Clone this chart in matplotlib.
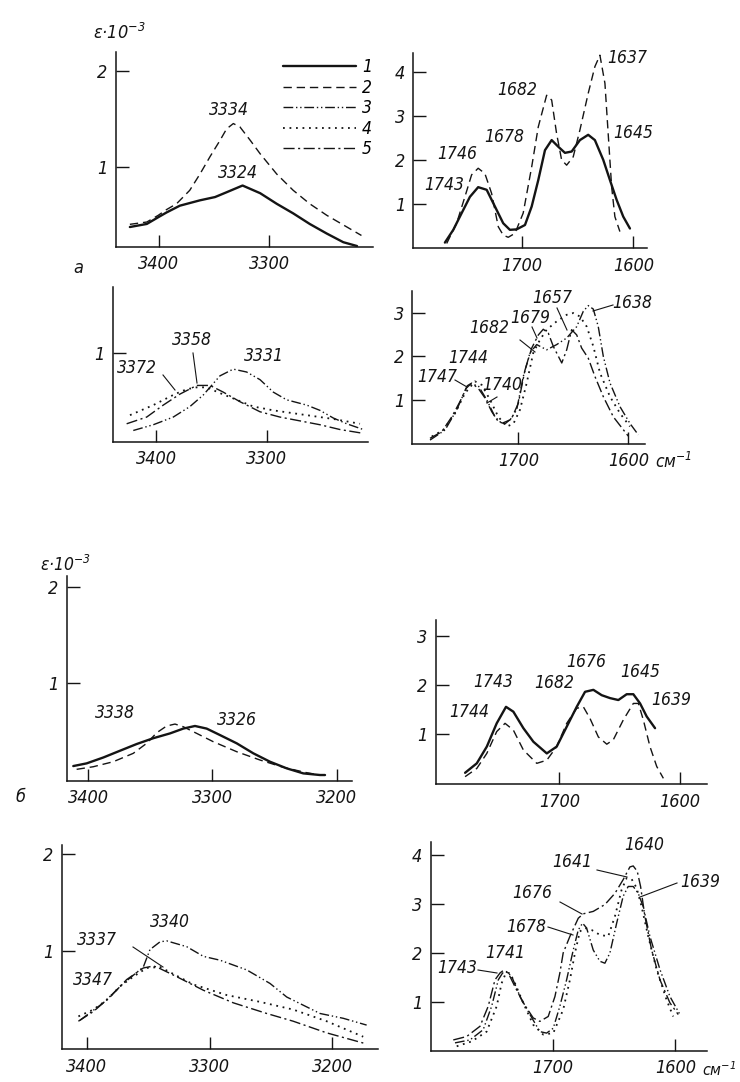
import matplotlib.pyplot as plt
from matplotlib.lines import Line2D

W, H = 740, 1082

plt.rcParams['font.family'] = ['DejaVu Sans']
plt.rcParams['font.style'] = 'italic'
plt.rcParams['font.stretch'] = 'condensed'
plt.rcParams['mathtext.default'] = 'it'

INK = '#141414'

# ---------------- data ----------------
# panel a, upper left (3 um region): curves 1 and 2
a1_nu_1 = [3426.4, 3411, 3400.6, 3393, 3381, 3362.7, 3349, 3338.5, 3324, 3308,
           3293, 3278, 3263, 3247.5, 3232.5, 3220]
a1_eps_1 = [0.378, 0.41, 0.48, 0.53, 0.60, 0.656, 0.69, 0.74, 0.81, 0.73,
            0.62, 0.52, 0.41, 0.31, 0.22, 0.18]
a1_nu_2 = [3426.4, 3411, 3400.6, 3393, 3384, 3372, 3362.7, 3353.6, 3344.5, 3338.5,
           3332.4, 3326.4, 3317, 3308, 3293, 3278, 3263, 3247.5, 3232.5, 3216]
a1_eps_2 = [0.406, 0.43, 0.50, 0.56, 0.62, 0.76, 0.93, 1.11, 1.28, 1.40,
            1.455, 1.42, 1.28, 1.14, 0.93, 0.76, 0.62, 0.50, 0.40, 0.29]

# panel a, lower left: curves 3, 4, 5
a2_nu_3 = [3420.5, 3402.4, 3384.4, 3369.3, 3357.3, 3342.2, 3330.2, 3318.1, 3306, 3294,
           3282, 3263.9, 3251.9, 3239.8, 3227.7, 3212.7]
a2_eps_3 = [0.19, 0.25, 0.33, 0.44, 0.56, 0.76, 0.83, 0.80, 0.72, 0.59,
            0.51, 0.455, 0.40, 0.32, 0.26, 0.20]
a2_nu_4 = [3423.5, 3402.4, 3382.8, 3372.3, 3363.2, 3354.2, 3342.2, 3327.1, 3312.1, 3294,
           3276, 3257.9, 3239.8, 3215.7]
a2_eps_4 = [0.35, 0.455, 0.57, 0.62, 0.64, 0.64, 0.58, 0.51, 0.44, 0.40,
            0.37, 0.34, 0.31, 0.26]
a2_nu_5 = [3426.5, 3408.4, 3393.4, 3378.3, 3363.2, 3351.2, 3339.2, 3324.1, 3306, 3288,
           3269.9, 3251.9, 3233.8, 3212.7]
a2_eps_5 = [0.26, 0.33, 0.455, 0.57, 0.66, 0.66, 0.59, 0.49, 0.385, 0.33,
            0.29, 0.25, 0.20, 0.16]

# panel a, upper right (6 um region): curves 1 and 2
a3_nu_1 = [1768.7, 1761.2, 1753.7, 1746.3, 1738.9, 1731.3, 1723.9, 1716.5, 1710.5, 1704.5,
           1697, 1691, 1685.1, 1679.1, 1673.1, 1667.2, 1661.2, 1655.2, 1647.8, 1640.4,
           1634.4, 1626.9, 1620.9, 1614.9, 1609, 1603]
a3_eps_1 = [0.13, 0.42, 0.80, 1.17, 1.39, 1.33, 0.95, 0.57, 0.42, 0.43,
            0.53, 0.95, 1.55, 2.23, 2.46, 2.31, 2.17, 2.20, 2.46, 2.58,
            2.46, 2.01, 1.55, 1.10, 0.72, 0.45]
a3_nu_2 = [1767.1, 1758.2, 1750.8, 1744.8, 1738.9, 1732.9, 1726.9, 1720.9, 1716.5, 1712,
           1706, 1698.6, 1691, 1685.1, 1677.6, 1673.1, 1668.7, 1664.2, 1659.7, 1653.8,
           1647.8, 1640.4, 1634.4, 1629.9, 1625.4, 1622.5, 1619.4, 1616.5, 1612]
a3_eps_2 = [0.11, 0.57, 1.17, 1.67, 1.82, 1.70, 1.25, 0.49, 0.30, 0.25,
            0.34, 0.80, 1.85, 2.76, 3.48, 3.37, 2.61, 2.01, 1.89, 2.08,
            2.69, 3.52, 4.13, 4.39, 3.75, 2.61, 1.40, 0.72, 0.38]

# panel a, lower right: curves 3, 4, 5
a4_nu_3 = [1780.3, 1766.6, 1756, 1747.5, 1743.3, 1736.4, 1728.7, 1721.2, 1715.1, 1707.5,
           1701.5, 1695.5, 1689.4, 1683.3, 1674.2, 1665.1, 1656, 1646.9, 1640.9, 1636.4,
           1631.8, 1627.3, 1622.7, 1616.6, 1607.5, 1598.5, 1590.9]
a4_eps_3 = [0.09, 0.32, 0.78, 1.27, 1.37, 1.33, 1.01, 0.62, 0.47, 0.55,
            0.78, 1.54, 2.08, 2.27, 2.15, 2.27, 2.42, 2.68, 3.03, 3.16,
            3.08, 2.68, 2.00, 1.39, 0.85, 0.47, 0.21]
a4_nu_4 = [1778.7, 1768.2, 1757.5, 1748.5, 1739.4, 1733.3, 1725.7, 1718.2, 1710.5, 1704.5,
           1698.5, 1692.4, 1686.4, 1680.3, 1674.2, 1665.1, 1656, 1650, 1643.9, 1637.8,
           1631.8, 1625.7, 1616.6, 1607.5, 1598.5]
a4_eps_4 = [0.17, 0.32, 0.70, 1.16, 1.43, 1.35, 1.01, 0.62, 0.40, 0.46,
            0.78, 1.39, 2.08, 2.38, 2.61, 2.80, 2.95, 2.99, 2.91, 2.68,
            2.23, 1.62, 1.08, 0.70, 0.40]
a4_nu_5 = [1780.3, 1769.6, 1760.5, 1753, 1746.4, 1742.4, 1736.4, 1730.3, 1724.2, 1718.2,
           1712.1, 1706, 1700, 1693.9, 1687.8, 1681.8, 1677.3, 1672.7, 1668.2, 1660.5,
           1656, 1651.5, 1646.9, 1642.4, 1636.4, 1630.3, 1622.7, 1613.6, 1600]
a4_eps_5 = [0.13, 0.28, 0.62, 0.97, 1.33, 1.39, 1.27, 1.05, 0.74, 0.51,
            0.46, 0.59, 0.93, 1.69, 2.19, 2.49, 2.62, 2.53, 2.23, 1.85,
            2.15, 2.61, 2.49, 2.19, 1.96, 1.54, 1.08, 0.62, 0.18]

# panel b, upper left: curves 1 and 2
b1_nu_1 = [3412.1, 3401.3, 3387.9, 3374.5, 3361, 3347.7, 3334.2, 3323.5, 3314.1, 3304.7,
           3294, 3280.5, 3267.1, 3253.7, 3240.2, 3226.9, 3213.4, 3209.4]
b1_eps_1 = [0.141, 0.169, 0.23, 0.30, 0.37, 0.43, 0.48, 0.53, 0.557, 0.53,
            0.463, 0.377, 0.273, 0.186, 0.117, 0.065, 0.048, 0.048]
b1_nu_2 = [3409.4, 3396, 3379.9, 3363.8, 3353, 3344.9, 3336.9, 3330.2, 3323.5, 3312.7,
           3299.4, 3280.5, 3261.8, 3243, 3224.1, 3213.4]
b1_eps_2 = [0.107, 0.134, 0.186, 0.273, 0.377, 0.487, 0.557, 0.577, 0.549, 0.48,
            0.394, 0.29, 0.204, 0.128, 0.072, 0.048]

# panel b, lower left: curves 3, 4, 5
b2_nu_3 = [3405.5, 3386.5, 3370.2, 3353.9, 3348.5, 3340.3, 3334.9, 3318.6, 3305, 3291.4,
           3269.7, 3250.7, 3237.1, 3210, 3191, 3172]
b2_eps_3 = [0.28, 0.46, 0.66, 0.83, 1.01, 1.09, 1.10, 1.04, 0.94, 0.90,
            0.80, 0.66, 0.52, 0.35, 0.30, 0.23]
b2_nu_4 = [3406.8, 3394.6, 3383.7, 3372.9, 3362.1, 3351.1, 3340.3, 3313.2, 3286, 3258.9,
           3231.8, 3204.6, 3174.8]
b2_eps_4 = [0.32, 0.39, 0.49, 0.63, 0.73, 0.82, 0.83, 0.65, 0.54, 0.47,
            0.39, 0.27, 0.11]
b2_nu_5 = [3406.8, 3394.6, 3381, 3367.5, 3353.9, 3345.8, 3343, 3326.7, 3305, 3280.6,
           3253.4, 3231.8, 3204.6, 3172]
b2_eps_5 = [0.27, 0.37, 0.52, 0.70, 0.82, 0.84, 0.83, 0.73, 0.59, 0.46,
            0.35, 0.27, 0.15, 0.035]

# panel b, upper right: curves 1 and 2
b3_nu_1 = [1778.1, 1768.4, 1760.1, 1751.9, 1744.2, 1738.1, 1729.8, 1721.5, 1710.4, 1702.2,
           1693.9, 1685.6, 1678.7, 1671.8, 1664.9, 1658, 1651.1, 1644.2, 1638.7, 1633.1,
           1627.6, 1620.7]
b3_eps_1 = [0.19, 0.385, 0.73, 1.21, 1.55, 1.45, 1.11, 0.83, 0.59, 0.73,
            1.14, 1.55, 1.86, 1.90, 1.79, 1.73, 1.69, 1.81, 1.81, 1.62,
            1.35, 1.11]
b3_nu_2 = [1778.1, 1768.4, 1760.1, 1751.9, 1745, 1738.1, 1729.8, 1718.7, 1710.4, 1702.2,
           1693.9, 1685.6, 1680.1, 1674.6, 1667.7, 1660.7, 1655.3, 1647, 1638.7, 1634.5,
           1630.4, 1624.9, 1619.3, 1613.8]
b3_eps_2 = [0.11, 0.28, 0.59, 1.04, 1.21, 1.07, 0.66, 0.385, 0.45, 0.73,
            1.21, 1.52, 1.55, 1.31, 0.93, 0.78, 0.87, 1.28, 1.62, 1.62,
            1.28, 0.73, 0.32, 0.076]

# panel b, lower right: curves 3, 4, 5
b4_nu_3 = [1779.6, 1767.4, 1756.6, 1749.7, 1744.3, 1740.8, 1737.5, 1733.4, 1726.6, 1718.5,
           1710.4, 1704.9, 1699.5, 1694.1, 1688.6, 1683.2, 1679.1, 1675.6, 1672.3, 1666.9,
           1661.5, 1657.4, 1653.3, 1647.8, 1642.5, 1638.4, 1634.3, 1630.2, 1626.2, 1620.7,
           1612.5, 1604.4, 1596.2]
b4_eps_3 = [0.16, 0.22, 0.43, 0.91, 1.45, 1.59, 1.62, 1.52, 1.11, 0.74,
            0.39, 0.36, 0.46, 0.91, 1.45, 2.06, 2.47, 2.61, 2.51, 2.06,
            1.83, 1.79, 2.00, 2.61, 3.16, 3.36, 3.36, 3.22, 2.95, 2.34,
            1.66, 1.11, 0.74]
b4_nu_4 = [1778.2, 1766, 1753.8, 1745.6, 1741.6, 1738.1, 1734.8, 1730.7, 1724, 1715.8,
           1707.7, 1699.5, 1691.4, 1685.9, 1681.8, 1677.8, 1673.7, 1668.2, 1661.5, 1654.7,
           1649.2, 1643.8, 1639.7, 1635.6, 1631.5, 1627.5, 1622.1, 1615.2, 1607.1, 1601.7]
b4_eps_4 = [0.09, 0.19, 0.39, 0.91, 1.38, 1.59, 1.59, 1.38, 0.98, 0.53,
            0.33, 0.36, 0.84, 1.45, 2.00, 2.44, 2.51, 2.47, 2.37, 2.34,
            2.75, 3.29, 3.53, 3.51, 3.33, 2.95, 2.34, 1.66, 1.04, 0.70]
b4_nu_5 = [1781, 1770.1, 1759.2, 1752.5, 1747, 1742.9, 1740.3, 1736.2, 1730.7, 1724,
           1715.8, 1710.4, 1703.6, 1698.1, 1694.1, 1691.4, 1685.9, 1679.1, 1675.1, 1666.9,
           1657.4, 1649.2, 1642.5, 1637, 1634.3, 1631, 1628.3, 1624.8, 1619.3, 1612.5,
           1604.4, 1597.6]
b4_eps_5 = [0.22, 0.29, 0.50, 0.91, 1.45, 1.59, 1.64, 1.59, 1.31, 0.98,
            0.67, 0.60, 0.70, 1.11, 1.59, 2.00, 2.34, 2.71, 2.80, 2.85,
            2.99, 3.22, 3.50, 3.76, 3.78, 3.67, 3.36, 2.75, 2.06, 1.45,
            0.98, 0.74]

curve_numbers = ['1', '2', '3', '4', '5']

# ---------------- styles ----------------
STYLE = {
    1: dict(ls='-', lw=1.7),
    2: dict(ls=(0, (6, 3.5)), lw=1.0),
    3: dict(ls=(0, (7, 2, 1, 2, 1, 2)), lw=1.0),
    4: dict(ls=(0, (1, 2.6)), lw=1.3),
    5: dict(ls=(0, (8, 2.5, 1.5, 2.5)), lw=1.0),
}


def box(x0, y0, x1, y1):
    return [x0 / W, 1 - y1 / H, (x1 - x0) / W, (y1 - y0) / H]


def make_axes(fig, pix, xlim, ylim, xticks, yticks):
    ax = fig.add_axes(box(*pix))
    ax.set_xlim(*xlim)
    ax.set_ylim(*ylim)
    ax.spines['top'].set_visible(False)
    ax.spines['right'].set_visible(False)
    for s in ('left', 'bottom'):
        ax.spines[s].set_linewidth(1.1)
        ax.spines[s].set_color(INK)
    ax.set_xticks(xticks)
    ax.set_yticks(yticks)
    ax.tick_params(axis='x', direction='in', length=9, width=1.0, color=INK,
                   labelsize=13, pad=6, labelcolor=INK)
    ax.tick_params(axis='y', direction='in', length=9, width=1.0, color=INK,
                   labelsize=13, pad=6, labelcolor=INK)
    ax.patch.set_alpha(0)
    return ax


def curve(ax, x, y, n):
    return ax.plot(x, y, color=INK, solid_capstyle='round', **STYLE[n])[0]


def label(fig, x, y, s, size=12.5, ha='center'):
    fig.text(x / W, 1 - y / H, s, ha=ha, va='center', fontsize=size, color=INK)


def leader(fig, x1, y1, x2, y2):
    fig.add_artist(Line2D([x1 / W, x2 / W], [1 - y1 / H, 1 - y2 / H],
                          transform=fig.transFigure, lw=0.8, color=INK))


fig = plt.figure(figsize=(W / 100, H / 100), dpi=100)

# ---- panel a ----
ax1 = make_axes(fig, (116, 52, 373, 247), (3439, 3205.5), (0.17, 2.2),
                [3400, 3300], [1, 2])
l1 = curve(ax1, a1_nu_1, a1_eps_1, 1)
l2 = curve(ax1, a1_nu_2, a1_eps_2, 2)

ax2 = make_axes(fig, (112.7, 286.7, 368.3, 441.7), (3439.1, 3208.2), (0.073, 1.69),
                [3400, 3300], [1])
l3 = curve(ax2, a2_nu_3, a2_eps_3, 3)
l4 = curve(ax2, a2_nu_4, a2_eps_4, 4)
l5 = curve(ax2, a2_nu_5, a2_eps_5, 5)

ax3 = make_axes(fig, (413.3, 53, 646.7, 248.3), (1797, 1588), (0, 4.44),
                [1700, 1600], [1, 2, 3, 4])
curve(ax3, a3_nu_1, a3_eps_1, 1)
curve(ax3, a3_nu_2, a3_eps_2, 2)

ax4 = make_axes(fig, (412.3, 290.7, 645, 444), (1796.4, 1584.8), (0, 3.5),
                [1700, 1600], [1, 2, 3])
curve(ax4, a4_nu_3, a4_eps_3, 3)
curve(ax4, a4_nu_4, a4_eps_4, 4)
curve(ax4, a4_nu_5, a4_eps_5, 5)

# ---- panel b ----
ax5 = make_axes(fig, (66.7, 576, 351.7, 780.7), (3417.4, 3187.9), (-0.011, 2.114),
                [3400, 3300, 3200], [1, 2])
curve(ax5, b1_nu_1, b1_eps_1, 1)
curve(ax5, b1_nu_2, b1_eps_2, 2)

ax6 = make_axes(fig, (61.7, 845, 378.3, 1049.3), (3420.4, 3162.5), (-0.02, 2.09),
                [3400, 3300, 3200], [1, 2])
curve(ax6, b2_nu_3, b2_eps_3, 3)
curve(ax6, b2_nu_4, b2_eps_4, 4)
curve(ax6, b2_nu_5, b2_eps_5, 5)

ax7 = make_axes(fig, (436, 620, 706.7, 784.3), (1802.2, 1577.9), (-0.047, 3.34),
                [1700, 1600], [1, 2, 3])
curve(ax7, b3_nu_1, b3_eps_1, 1)
curve(ax7, b3_nu_2, b3_eps_2, 2)

ax8 = make_axes(fig, (430.7, 842, 706.7, 1050.7), (1799.4, 1574.4), (0, 4.27),
                [1700, 1600], [1, 2, 3, 4])
curve(ax8, b4_nu_3, b4_eps_3, 3)
curve(ax8, b4_nu_4, b4_eps_4, 4)
curve(ax8, b4_nu_5, b4_eps_5, 5)

# legend of curve numbers (top of panel a)
fig.legend([l1, l2, l3, l4, l5], curve_numbers, loc='upper left',
           bbox_to_anchor=(283 / W, 1 - 58 / H), frameon=False, fontsize=12.5,
           handlelength=4.2, handletextpad=0.35, labelspacing=0.15,
           borderpad=0, borderaxespad=0)

# axis titles and panel letters
label(fig, 93, 33, 'ε·10$^{-3}$', size=13, ha='left')
label(fig, 40, 565, 'ε·10$^{-3}$', size=12.5, ha='left')
label(fig, 78, 268, 'а', size=13)
label(fig, 20, 797, 'б', size=13)
label(fig, 655, 462, 'см$^{-1}$', size=12.5, ha='left')
label(fig, 702, 1070, 'см$^{-1}$', size=11.5, ha='left')

# peak labels, panel a
label(fig, 229, 110, '3334')
label(fig, 238, 173, '3324')
label(fig, 137, 368, '3372')
leader(fig, 163, 375, 175, 390)
label(fig, 192, 340, '3358')
leader(fig, 193, 353, 197, 383)
label(fig, 264, 356, '3331')
label(fig, 457, 154, '1746')
label(fig, 444, 185, '1743')
label(fig, 504, 137, '1678')
label(fig, 517, 90, '1682')
label(fig, 627, 58, '1637')
label(fig, 633, 133, '1645')
label(fig, 552, 298, '1657')
leader(fig, 557, 308, 567, 330)
label(fig, 632, 303, '1638')
leader(fig, 613, 305, 593, 311)
label(fig, 489, 328, '1682')
leader(fig, 520, 340, 535, 352)
label(fig, 530, 318, '1679')
leader(fig, 532, 327, 537, 338)
label(fig, 468, 358, '1744')
label(fig, 437, 377, '1747')
leader(fig, 455, 380, 467, 387)
label(fig, 502, 385, '1740')
leader(fig, 497, 397, 487, 403)

# peak labels, panel b
label(fig, 115, 713, '3338')
label(fig, 237, 720, '3326')
label(fig, 170, 922, '3340')
label(fig, 97, 940, '3337')
leader(fig, 133, 947, 163, 967)
label(fig, 93, 980, '3347')
label(fig, 493, 682, '1743')
label(fig, 469, 712, '1744')
label(fig, 554, 683, '1682')
label(fig, 586, 662, '1676')
label(fig, 640, 672, '1645')
label(fig, 671, 700, '1639')
label(fig, 457, 968, '1743')
leader(fig, 478, 970, 497, 973)
label(fig, 505, 953, '1741')
label(fig, 526, 927, '1678')
leader(fig, 548, 927, 573, 935)
label(fig, 532, 893, '1676')
leader(fig, 560, 902, 582, 914)
label(fig, 572, 862, '1641')
leader(fig, 597, 870, 627, 877)
label(fig, 644, 845, '1640')
label(fig, 700, 882, '1639')
leader(fig, 677, 883, 640, 897)

fig.savefig('out.png', dpi=100, facecolor='white')
